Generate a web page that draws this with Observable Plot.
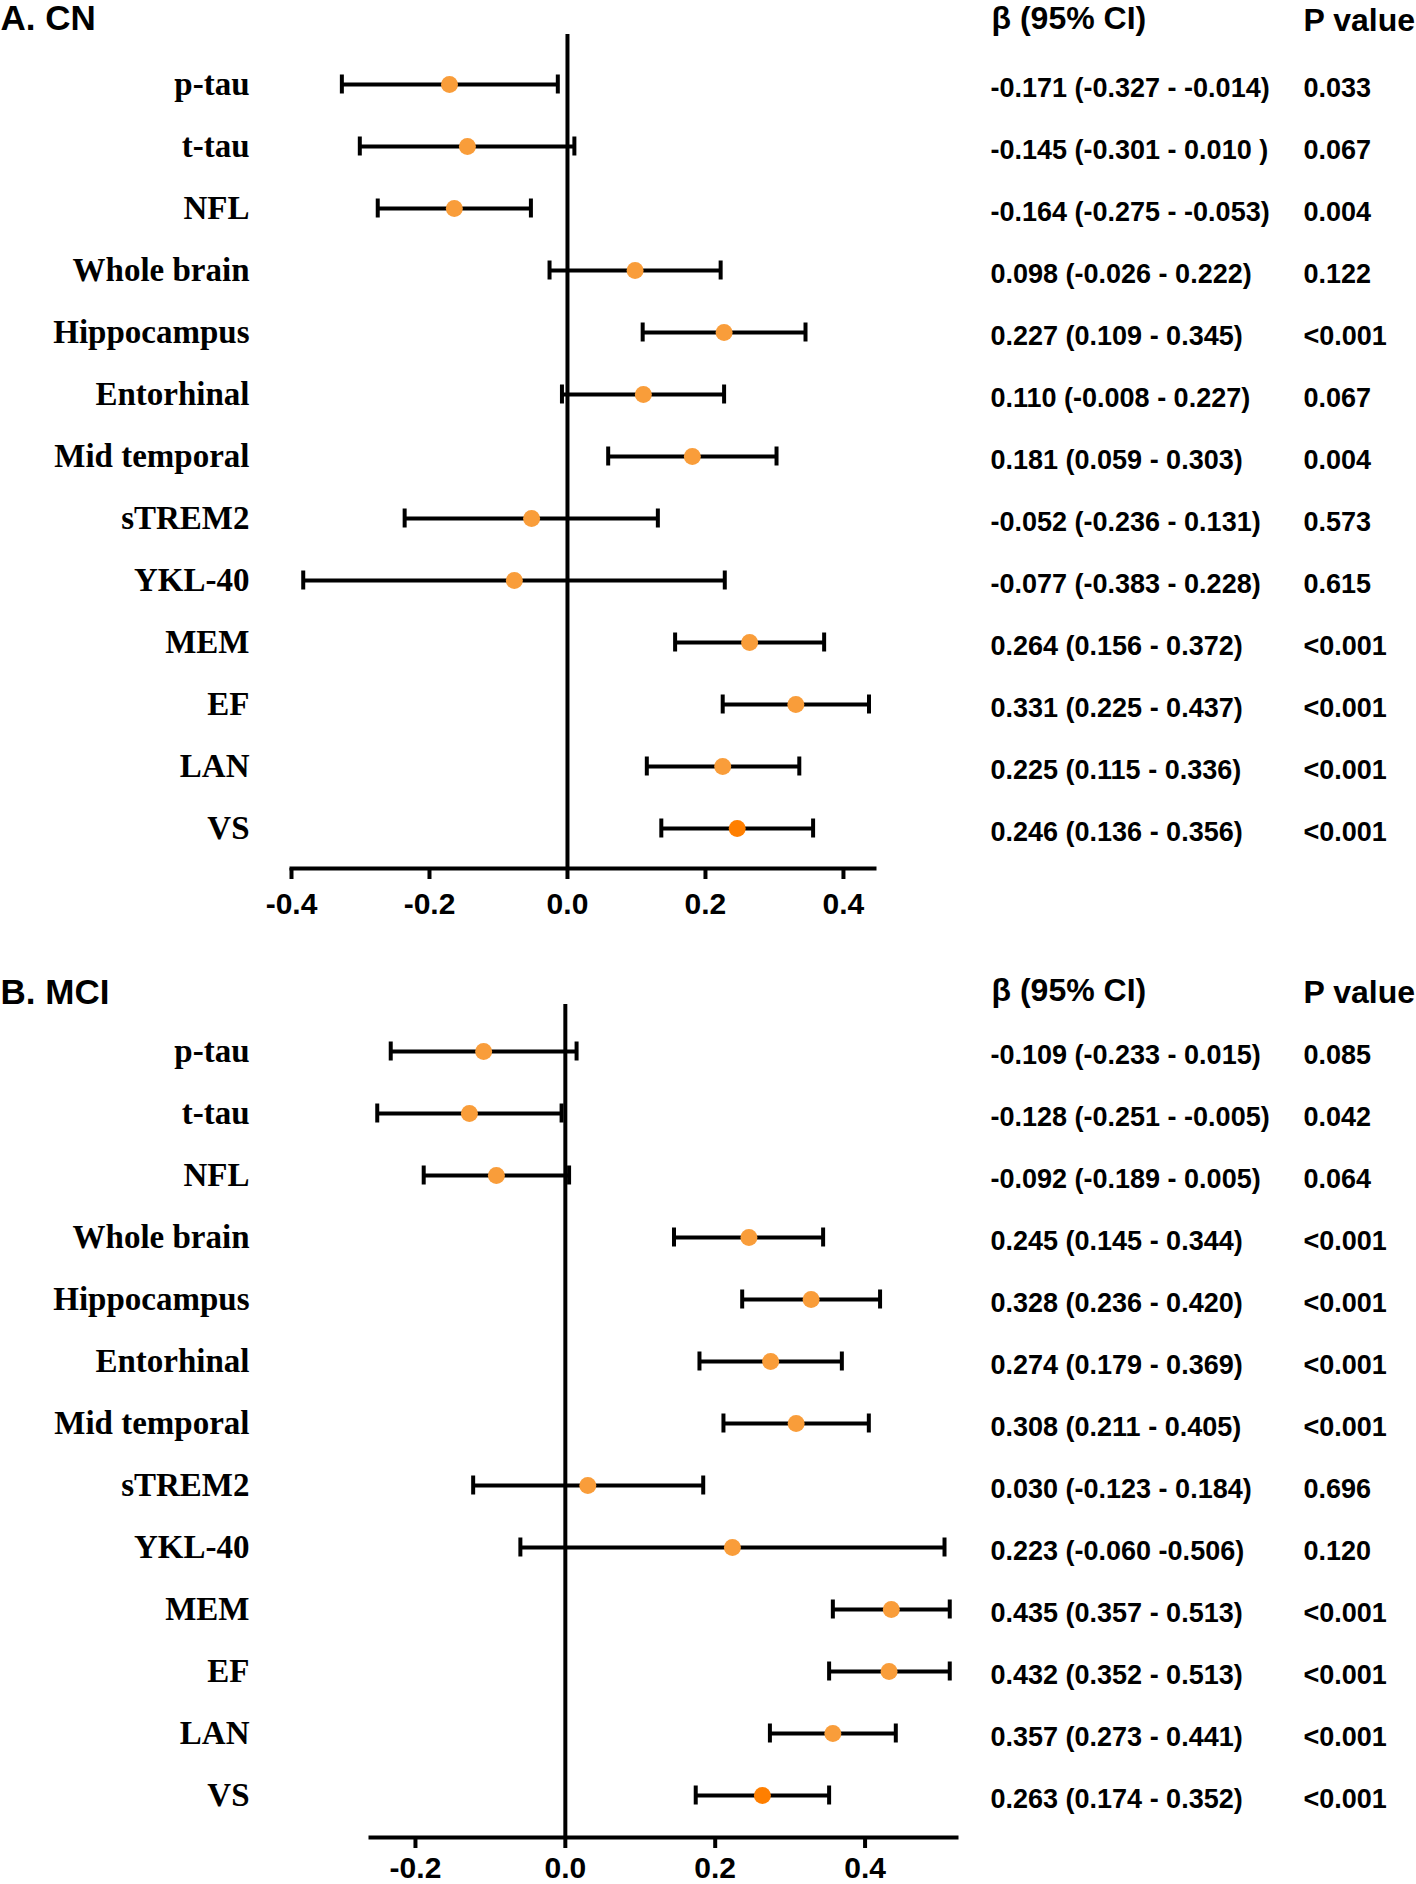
<!DOCTYPE html>
<html>
<head>
<meta charset="utf-8">
<script src="https://cdn.jsdelivr.net/npm/d3@7"></script>
<script src="https://cdn.jsdelivr.net/npm/@observablehq/plot@0.6"></script>
<style>
  html, body { margin: 0; padding: 0; background: #fff; }
  #chart { width: 1416px; }
  #chart svg { display: block; }
</style>
</head>
<body>
<div id="chart"></div>
<script>
const labels = ["p-tau","t-tau","NFL","Whole brain","Hippocampus","Entorhinal","Mid temporal","sTREM2","YKL-40","MEM","EF","LAN","VS"];

// A. CN
const cnBeta = [-0.171,-0.145,-0.164,0.098,0.227,0.110,0.181,-0.052,-0.077,0.264,0.331,0.225,0.246];
const cnLow  = [-0.327,-0.301,-0.275,-0.026,0.109,-0.008,0.059,-0.236,-0.383,0.156,0.225,0.115,0.136];
const cnHigh = [-0.014,0.010,-0.053,0.222,0.345,0.227,0.303,0.131,0.228,0.372,0.437,0.336,0.356];
const cnText = ["-0.171 (-0.327 - -0.014)","-0.145 (-0.301 - 0.010 )","-0.164 (-0.275 - -0.053)","0.098 (-0.026 - 0.222)","0.227 (0.109 - 0.345)","0.110 (-0.008 - 0.227)","0.181 (0.059 - 0.303)","-0.052 (-0.236 - 0.131)","-0.077 (-0.383 - 0.228)","0.264 (0.156 - 0.372)","0.331 (0.225 - 0.437)","0.225 (0.115 - 0.336)","0.246 (0.136 - 0.356)"];
const cnP = ["0.033","0.067","0.004","0.122","<0.001","0.067","0.004","0.573","0.615","<0.001","<0.001","<0.001","<0.001"];
const cnTicks = [-0.4,-0.2,0.0,0.2,0.4];

// B. MCI
const mciBeta = [-0.109,-0.128,-0.092,0.245,0.328,0.274,0.308,0.030,0.223,0.435,0.432,0.357,0.263];
const mciLow  = [-0.233,-0.251,-0.189,0.145,0.236,0.179,0.211,-0.123,-0.060,0.357,0.352,0.273,0.174];
const mciHigh = [0.015,-0.005,0.005,0.344,0.420,0.369,0.405,0.184,0.506,0.513,0.513,0.441,0.352];
const mciText = ["-0.109 (-0.233 - 0.015)","-0.128 (-0.251 - -0.005)","-0.092 (-0.189 - 0.005)","0.245 (0.145 - 0.344)","0.328 (0.236 - 0.420)","0.274 (0.179 - 0.369)","0.308 (0.211 - 0.405)","0.030 (-0.123 - 0.184)","0.223 (-0.060 -0.506)","0.435 (0.357 - 0.513)","0.432 (0.352 - 0.513)","0.357 (0.273 - 0.441)","0.263 (0.174 - 0.352)"];
const mciP = ["0.085","0.042","0.064","<0.001","<0.001","<0.001","<0.001","0.696","0.120","<0.001","<0.001","<0.001","<0.001"];
const mciTicks = [-0.2,0.0,0.2,0.4];

const SANS = "'Liberation Sans', Arial, Helvetica, sans-serif";
const SERIF = "'Liberation Serif', 'Times New Roman', Times, serif";
const LIGHT = "#F99D3A";
const DARK = "#FF7F00";
const SW = 4;

function makeRows(beta, low, high, text, p) {
  return labels.map((label, i) => ({label, beta: beta[i], low: low[i], high: high[i], text: text[i], p: p[i]}));
}

function panel(cfg) {
  const rows = makeRows(cfg.beta, cfg.low, cfg.high, cfg.text, cfg.p);
  const frameRight = 1416 - cfg.marginRight;
  return Plot.plot({
    width: 1416,
    height: cfg.height,
    marginLeft: cfg.marginLeft,
    marginRight: cfg.marginRight,
    marginTop: cfg.marginTop,
    marginBottom: cfg.marginBottom,
    style: {fontFamily: SANS, fontWeight: "bold", color: "black", background: "white", overflow: "visible"},
    x: {domain: cfg.domain},
    y: {type: "band", domain: labels, padding: 0, insetTop: cfg.insetTop, insetBottom: cfg.insetBottom},
    marks: [
      Plot.ruleX([0], {stroke: "black", strokeWidth: SW}),
      Plot.frame({anchor: "bottom", stroke: "black", strokeWidth: SW}),
      Plot.axisX({ticks: cfg.ticks, tickFormat: d => d.toFixed(1), tickSize: 11, tickPadding: cfg.tickPadding, strokeWidth: SW,
        fontSize: 30, fontWeight: "bold", fontFamily: SANS, label: null}),
      Plot.axisY({tickSize: 0, tickPadding: cfg.marginLeft - 249, fontSize: 33, fontWeight: "bold", fontFamily: SERIF, label: null}),
      Plot.ruleY(rows, {y: "label", x1: "low", x2: "high", stroke: "black", strokeWidth: SW}),
      Plot.tickX(rows, {y: "label", x: "low", stroke: "black", strokeWidth: SW, insetTop: 21.5, insetBottom: 21.5}),
      Plot.tickX(rows, {y: "label", x: "high", stroke: "black", strokeWidth: SW, insetTop: 21.5, insetBottom: 21.5}),
      Plot.dot(rows, {y: "label", x: "beta", r: 8.5, fill: d => d.label === "VS" ? DARK : LIGHT, stroke: null}),
      Plot.text(rows, {y: "label", text: "text", frameAnchor: "right", textAnchor: "start", dx: 990 - frameRight, dy: 4,
        fontSize: 27, fontWeight: "bold", fontFamily: SANS, fill: "black"}),
      Plot.text(rows, {y: "label", text: "p", frameAnchor: "right", textAnchor: "start", dx: 1303 - frameRight, dy: 4,
        fontSize: 27, fontWeight: "bold", fontFamily: SANS, fill: "black"}),
      Plot.text([cfg.title], {frameAnchor: "top-left", textAnchor: "start", lineAnchor: "middle", dx: -cfg.marginLeft, dy: cfg.titleY - cfg.marginTop,
        fontSize: 35, fontWeight: "bold", fontFamily: SANS, fill: "black"}),
      Plot.text(["β (95% CI)"], {frameAnchor: "top-right", textAnchor: "start", lineAnchor: "middle", dx: 991 - frameRight, dy: cfg.headY - cfg.marginTop,
        fontSize: 32, fontWeight: "bold", fontFamily: SANS, fill: "black"}),
      Plot.text(["P value"], {frameAnchor: "top-right", textAnchor: "start", lineAnchor: "middle", dx: 1303 - frameRight, dy: cfg.headY + 2 - cfg.marginTop,
        fontSize: 32, fontWeight: "bold", fontFamily: SANS, fill: "black"})
    ]
  });
}

const chart = document.getElementById("chart");
chart.appendChild(panel({
  beta: cnBeta, low: cnLow, high: cnHigh, text: cnText, p: cnP, ticks: cnTicks,
  title: "A. CN", domain: [-0.4, 0.445],
  height: 940, marginLeft: 291, marginRight: 542, marginTop: 34, marginBottom: 72,
  insetTop: 16.9, insetBottom: 7.9, titleY: 18, headY: 18, tickPadding: 13
}));
chart.appendChild(panel({
  beta: mciBeta, low: mciLow, high: mciHigh, text: mciText, p: mciP, ticks: mciTicks,
  title: "B. MCI", domain: [-0.26, 0.522],
  height: 944, marginLeft: 370, marginRight: 460, marginTop: 64, marginBottom: 47,
  insetTop: 13.8, insetBottom: 8.8, titleY: 52, headY: 50, tickPadding: 8
}));
</script>
</body>
</html>
